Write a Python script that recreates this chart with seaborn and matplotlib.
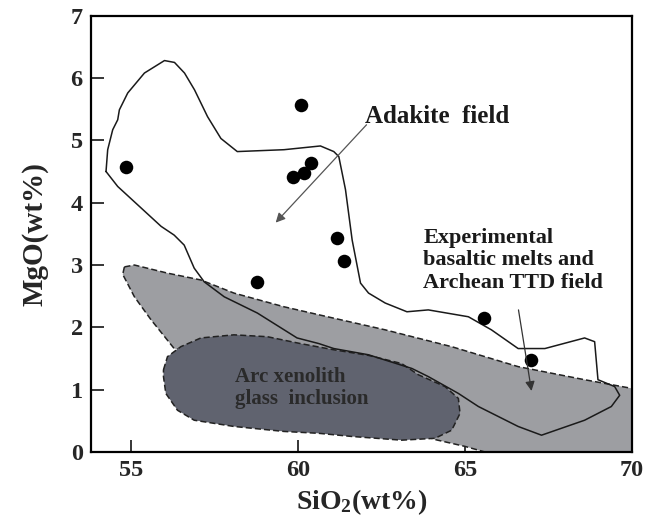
import numpy as np
import matplotlib
matplotlib.use("Agg")
import matplotlib.pyplot as plt
import seaborn as sns

# sample points (SiO2, MgO)
sio2 = [54.85, 60.08, 59.85, 60.18, 60.40, 61.16, 61.37, 58.78, 65.57, 66.96]
mgo = [4.57, 5.57, 4.42, 4.48, 4.64, 3.44, 3.07, 2.73, 2.15, 1.48]

# adakite field outline
adakite_x = [54.25, 54.30, 54.45, 54.60, 54.65, 54.90, 55.40, 56.00, 56.30, 56.60,
             56.90, 57.29, 57.69, 58.18, 59.58, 60.67, 61.07, 61.22, 61.42, 61.62,
             61.87, 62.11, 62.61, 63.26, 63.90, 65.10, 65.79, 66.59, 67.39, 68.58,
             68.88, 68.98, 69.48, 69.63, 69.38, 68.58, 67.29, 66.59, 65.40, 64.80,
             63.90, 63.41, 62.11, 61.07, 60.62, 59.97, 58.78, 57.79, 57.19, 56.89,
             56.59, 56.29, 55.90, 54.60, 54.25]
adakite_y = [4.50, 4.85, 5.17, 5.33, 5.49, 5.76, 6.08, 6.28, 6.25, 6.08,
             5.81, 5.38, 5.03, 4.82, 4.85, 4.91, 4.82, 4.74, 4.21, 3.40,
             2.71, 2.55, 2.39, 2.25, 2.28, 2.17, 1.96, 1.66, 1.66, 1.83,
             1.77, 1.16, 1.05, 0.91, 0.73, 0.51, 0.27, 0.41, 0.73, 0.94,
             1.21, 1.34, 1.56, 1.66, 1.74, 1.83, 2.23, 2.49, 2.73, 2.95,
             3.32, 3.48, 3.62, 4.26, 4.50]

# experimental basaltic melts / Archean TTD field
ttd_x = [54.80, 55.10, 56.09, 57.09, 58.08, 59.58, 60.80, 62.61, 64.60, 66.59,
         68.58, 70.00, 70.00, 65.60, 65.00, 64.10, 62.00, 58.00, 56.29, 55.60,
         55.10, 54.75]
ttd_y = [2.97, 3.00, 2.87, 2.76, 2.55, 2.33, 2.18, 1.96, 1.69, 1.37,
         1.16, 1.02, 0.00, 0.00, 0.09, 0.20, 0.60, 1.50, 1.66, 2.12,
         2.49, 2.85]

# arc xenolith glass inclusion field
arc_x = [55.97, 56.09, 56.49, 57.09, 58.08, 59.08, 60.07, 61.07, 62.11, 63.10,
         63.60, 64.40, 64.80, 64.85, 64.60, 64.10, 63.10, 61.60, 60.62, 59.58,
         58.08, 56.89, 56.39, 56.04, 55.97]
arc_y = [1.32, 1.53, 1.69, 1.83, 1.88, 1.85, 1.74, 1.64, 1.55, 1.42,
         1.24, 1.05, 0.86, 0.62, 0.35, 0.22, 0.19, 0.25, 0.30, 0.33,
         0.41, 0.51, 0.67, 0.94, 1.21]

x_ticks = [55, 60, 65, 70]
y_ticks = [0, 1, 2, 3, 4, 5, 6, 7]

sns.set_style("ticks")
plt.rcParams["font.family"] = ["Liberation Serif", "DejaVu Serif"]
plt.rcParams["font.weight"] = "bold"
plt.rcParams["mathtext.fontset"] = "custom"
plt.rcParams["mathtext.rm"] = "Liberation Serif:bold"
plt.rcParams["mathtext.bf"] = "Liberation Serif:bold"
plt.rcParams["mathtext.it"] = "Liberation Serif:bold"

fig = plt.figure(figsize=(6.57, 5.21), dpi=100)
ax = fig.add_axes([0.1385, 0.1324, 0.8235, 0.8375])

ax.fill(ttd_x, ttd_y, facecolor="#9d9ea2", edgecolor="#222222",
        linestyle=(0, (4, 2)), linewidth=1.1, zorder=1)
ax.fill(arc_x, arc_y, facecolor="#60636f", edgecolor="#222222",
        linestyle=(0, (4, 2)), linewidth=1.1, zorder=2)
ax.plot(adakite_x, adakite_y, color="#1a1a1a", linewidth=1.1, zorder=3)

sns.scatterplot(x=sio2, y=mgo, ax=ax, color="black", s=95, edgecolor="black",
                linewidth=0, zorder=4)

ax.annotate("", xy=(59.33, 3.68), xytext=(62.05, 5.25),
            arrowprops=dict(arrowstyle="-|>", color="#555555", lw=0.9,
                            mutation_scale=14, shrinkA=0, shrinkB=0), zorder=5)
ax.text(62.0, 5.38, "Adakite  field", fontsize=18, fontweight="bold",
        ha="left", va="center", color="#1a1a1a")

ax.annotate("", xy=(66.99, 0.98), xytext=(66.6, 2.28),
            arrowprops=dict(arrowstyle="-|>", color="#333333", lw=0.9,
                            mutation_scale=14, shrinkA=0, shrinkB=0), zorder=5)
ax.text(63.75, 2.55, "Experimental\nbasaltic melts and\nArchean TTD field",
        fontsize=16, fontweight="bold", ha="left", va="bottom",
        color="#1a1a1a", linespacing=1.18)

ax.text(58.1, 1.03, "Arc xenolith\nglass  inclusion", fontsize=15,
        fontweight="bold", ha="left", va="center", color="#2a2a2a",
        linespacing=1.1, zorder=6)

ax.set_xlim(53.8, 70)
ax.set_ylim(0, 7)
ax.set_xticks(x_ticks)
ax.set_yticks(y_ticks)
ax.tick_params(direction="in", length=9, width=1.3, labelsize=17.5, pad=6)
for lab in ax.get_xticklabels() + ax.get_yticklabels():
    lab.set_fontweight("bold")
for sp in ax.spines.values():
    sp.set_visible(True)
    sp.set_linewidth(1.6)
    sp.set_color("black")

ax.set_xlabel("SiO$_\\mathbf{2}$(wt%)", fontsize=20, fontweight="bold", labelpad=4)
ax.set_ylabel("MgO(wt%)", fontsize=21, fontweight="bold", labelpad=16)

fig.savefig("out.png", dpi=100)
plt.close(fig)
